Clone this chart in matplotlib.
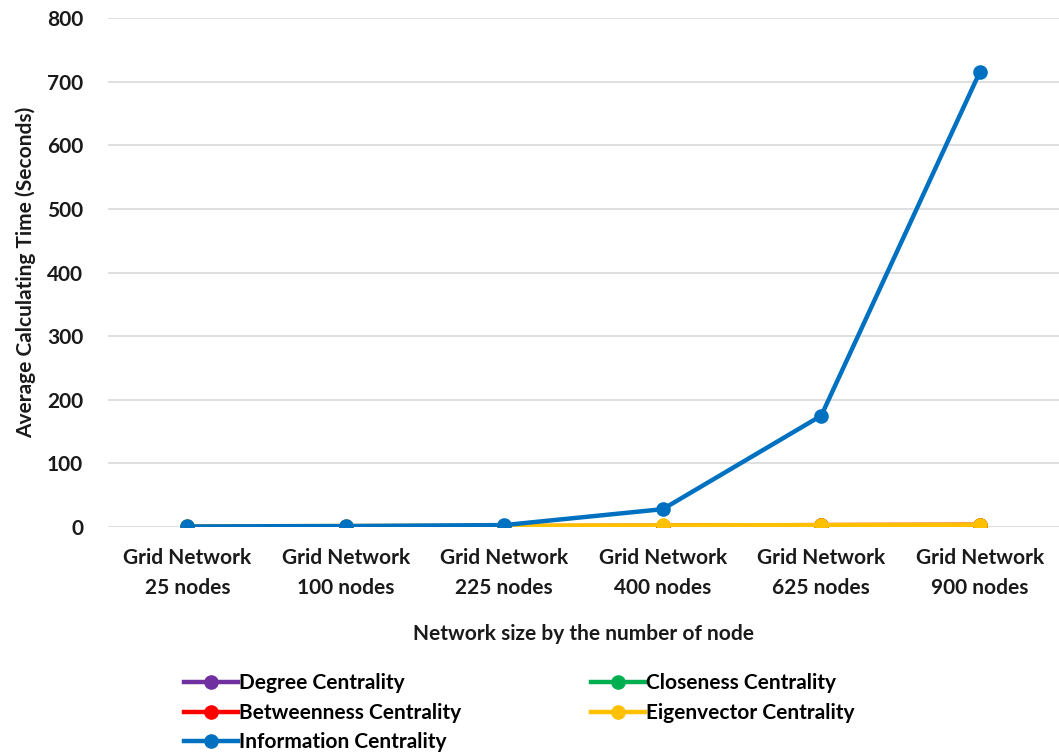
import numpy as np
import matplotlib.pyplot as plt

plt.rcParams['font.family'] = ['Lato', 'DejaVu Sans']

# --- data ---
categories = ['Grid Network\n25 nodes', 'Grid Network\n100 nodes', 'Grid Network\n225 nodes',
              'Grid Network\n400 nodes', 'Grid Network\n625 nodes', 'Grid Network\n900 nodes']
degree = [0.01, 0.02, 0.05, 0.1, 0.2, 0.3]
closeness = [0.1, 0.3, 0.8, 1.5, 2.5, 3.0]
betweenness = [0.2, 0.5, 1.2, 2.0, 3.0, 3.5]
eigenvector = [1.0, 1.5, 2.0, 2.5, 3.0, 3.5]
information = [0.8, 1.5, 3.0, 28, 175, 715]

series = [
    ('Degree Centrality', degree, '#7030A0'),
    ('Closeness Centrality', closeness, '#00B050'),
    ('Betweenness Centrality', betweenness, '#FF0000'),
    ('Eigenvector Centrality', eigenvector, '#FFC000'),
    ('Information Centrality', information, '#0070C0'),
]

FS = 15
TXT = '#1a1a1a'

fig = plt.figure(figsize=(10.59, 7.55), dpi=100)
ax = fig.add_axes([0.102, 0.302, 0.898, 0.674])

x = np.arange(len(categories))
handles = {}
for name, vals, col in series:
    h, = ax.plot(x, vals, color=col, linewidth=3.2, marker='o', markersize=9.5, label=name)
    handles[name] = h

ax.set_xlim(-0.5, 5.5)
ax.set_ylim(0, 800)
ax.set_yticks(range(0, 801, 100))
ax.set_xticks(x)
ax.set_xticklabels(categories, fontsize=FS, fontweight='bold', color=TXT, linespacing=1.62)
for lab in ax.get_yticklabels():
    lab.set_fontsize(FS)
    lab.set_fontweight('bold')
    lab.set_color(TXT)
ax.tick_params(axis='x', length=0, pad=15)
ax.tick_params(axis='y', length=0, pad=18)
ax.grid(axis='y', color='#D9D9D9', linewidth=1.2)
ax.set_axisbelow(True)
for s in ax.spines.values():
    s.set_visible(False)

ax.set_ylabel('Average Calculating Time (Seconds)', fontsize=FS, fontweight='bold', color=TXT, labelpad=8)
ax.set_xlabel('Network size by the number of node', fontsize=FS, fontweight='bold', color=TXT, labelpad=19)

order = ['Degree Centrality', 'Betweenness Centrality', 'Information Centrality',
         'Closeness Centrality', 'Eigenvector Centrality']
fig.legend([handles[n] for n in order], order, ncol=2, loc='upper left',
           bbox_to_anchor=(0.174, 0.108), frameon=False,
           handlelength=2.6, handletextpad=0.05, columnspacing=6.2, labelspacing=0.45,
           borderaxespad=0, borderpad=0,
           prop={'weight': 'bold', 'size': FS})

fig.savefig('out.png', dpi=100)
